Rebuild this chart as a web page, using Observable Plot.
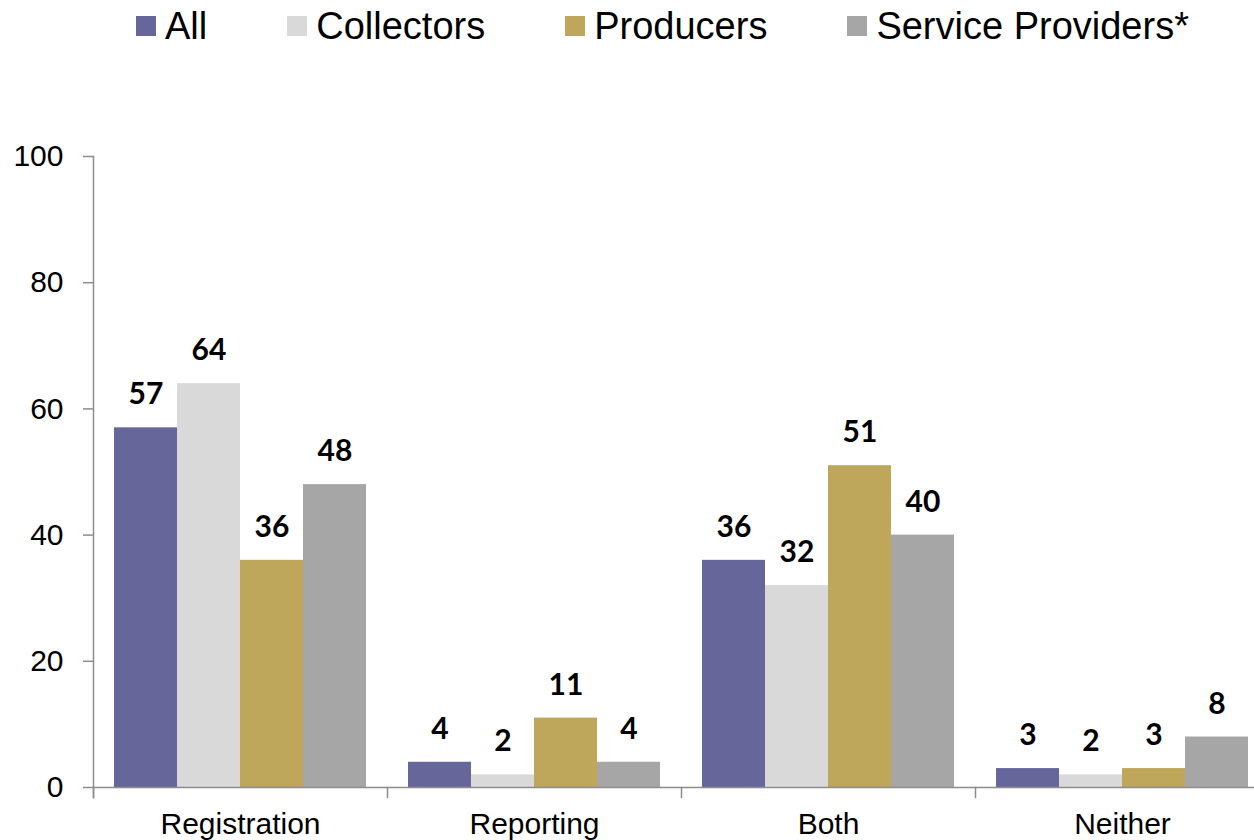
<!DOCTYPE html>
<html>
<head>
<meta charset="utf-8">
<script src="https://cdn.jsdelivr.net/npm/d3@7"></script>
<script src="https://cdn.jsdelivr.net/npm/@observablehq/plot@0.6"></script>
<style>
  html, body { margin: 0; padding: 0; background: #fff; overflow: hidden; width: 1254px; height: 840px; }
  #legend { position: relative; width: 1254px; height: 60px; display: flex; flex-wrap: nowrap; align-items: center; padding-left: 136px; padding-bottom: 8px; box-sizing: border-box;
            font-family: "Liberation Sans", Arial, sans-serif; font-size: 38px; color: #000; white-space: nowrap; overflow: visible; }
  #legend .item { display: flex; align-items: center; margin-right: 80px; flex-shrink: 0; white-space: nowrap; }
  #legend .sw { width: 20px; height: 20px; margin-right: 9px; flex-shrink: 0; }
  #chart { width: 1254px; overflow: hidden; }
</style>
</head>
<body>
<div id="legend"></div>
<div id="chart"></div>
<script>
const categories = ["Registration", "Reporting", "Both", "Neither"];
const seriesNames = ["All", "Collectors", "Producers", "Service Providers*"];
const seriesColors = ["#67669a", "#d9d9d9", "#bea65a", "#a6a6a6"];
const allValues = [57, 4, 36, 3];
const collectorsValues = [64, 2, 32, 2];
const producersValues = [36, 11, 51, 3];
const serviceValues = [48, 4, 40, 8];
const yTicks = [0, 20, 40, 60, 80, 100];

const seriesValues = [allValues, collectorsValues, producersValues, serviceValues];
const data = [];
categories.forEach((c, ci) => {
  seriesNames.forEach((s, si) => {
    data.push({category: c, series: s, value: seriesValues[si][ci]});
  });
});

// Legend
const legend = document.getElementById("legend");
seriesNames.forEach((s, i) => {
  const item = document.createElement("div");
  item.className = "item";
  const sw = document.createElement("div");
  sw.className = "sw";
  sw.style.background = seriesColors[i];
  const t = document.createElement("span");
  t.textContent = s;
  item.appendChild(sw);
  item.appendChild(t);
  legend.appendChild(item);
});

const axisColor = "#8c8c8c";
const chart = Plot.plot({
  width: 1269,
  height: 780,
  marginLeft: 93,
  marginRight: 0,
  marginTop: 96,
  marginBottom: 53,
  style: {fontFamily: "'Liberation Sans', Arial, sans-serif", fontSize: "30px", color: "#000", background: "#fff", overflow: "visible", maxWidth: "none"},
  fx: {domain: categories, padding: 0, axis: null},
  x: {domain: seriesNames, paddingInner: 0, paddingOuter: 0.297, axis: null},
  y: {domain: [0, 100], axis: null},
  color: {domain: seriesNames, range: seriesColors},
  marks: [
    Plot.barY(data, {fx: "category", x: "series", y: "value", fill: "series"}),
    Plot.ruleY([0], {stroke: axisColor, strokeWidth: 1.5}),
    Plot.frame({anchor: "left", facetAnchor: "left", stroke: axisColor, strokeWidth: 1.5, insetBottom: -10}),
    Plot.frame({anchor: "left", stroke: axisColor, strokeWidth: 1.5, insetTop: 631, insetBottom: -10}),
    Plot.axisY({ticks: yTicks, tickSize: 10, tickPadding: 20, fontSize: 30, stroke: axisColor, strokeWidth: 1.5, fill: "#000", label: null}),
    Plot.axisFx({anchor: "bottom", tickSize: 0, tickPadding: 25, fontSize: 30, fill: "#000", label: null}),
    Plot.text(data, {fx: "category", x: "series", y: "value", text: "value", dy: -33, fontSize: 30, fontWeight: "bold", fontFamily: "Lato, 'Open Sans', sans-serif", fill: "#000"})
  ]
});
document.getElementById("chart").appendChild(chart);
</script>
</body>
</html>
